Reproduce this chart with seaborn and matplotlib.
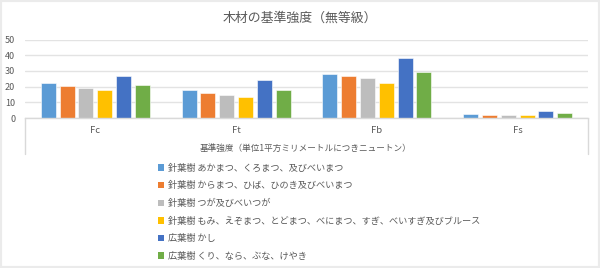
import matplotlib
matplotlib.use("Agg")
import matplotlib.pyplot as plt
import seaborn as sns
import pandas as pd
from matplotlib.patches import Rectangle
from matplotlib.lines import Line2D

categories = ["Fc", "Ft", "Fb", "Fs"]
series_names = [
    "針葉樹 あかまつ、くろまつ、及びべいまつ",
    "針葉樹 からまつ、ひば、ひのき及びべいまつ",
    "針葉樹 つが及びべいつが",
    "針葉樹 もみ、えぞまつ、とどまつ、べにまつ、すぎ、べいすぎ及びブルース",
    "広葉樹 かし",
    "広葉樹 くり、なら、ぶな、けやき",
]
akamatsu = [22.2, 17.7, 28.2, 2.4]
karamatsu = [20.7, 16.2, 26.7, 2.1]
tsuga = [19.2, 14.7, 25.2, 2.1]
momi = [17.7, 13.5, 22.2, 1.8]
kashi = [27.0, 24.0, 38.4, 4.2]
kuri = [21.0, 18.0, 29.4, 3.0]
series_values = [akamatsu, karamatsu, tsuga, momi, kashi, kuri]
yticks = [0, 10, 20, 30, 40, 50]
title = "木材の基準強度（無等級）"
xlabel = "基準強度（単位1平方ミリメートルにつきニュートン）"

colors = ["#5B9BD5", "#ED7D31", "#BDBDBD", "#FFC000", "#4472C4", "#70AD47"]

rows = []
for name, vals in zip(series_names, series_values):
    for c, v in zip(categories, vals):
        rows.append({"cat": c, "series": name, "value": v})
df = pd.DataFrame(rows)

sns.set_style("white")
plt.rcParams["font.family"] = ["Noto Sans CJK JP", "DejaVu Sans"]

fig = plt.figure(figsize=(6.0, 2.68), dpi=100)
fig.patch.set_facecolor("white")

W, H = 600, 268
left, right = 25 / W, 588 / W
bottom, top = 1 - 118 / H, 1 - 39.5 / H
ax = fig.add_axes([left, bottom, right - left, top - bottom])

sns.barplot(data=df, x="cat", y="value", hue="series", order=categories,
            hue_order=series_names, palette=colors, width=0.8, gap=0.2,
            ax=ax, legend=False, errorbar=None, saturation=1,
            edgecolor="white", linewidth=0.4)

ax.set_ylim(0, 50)
ax.set_yticks(yticks)
ax.set_yticklabels([str(t) for t in yticks])
ax.grid(axis="y", color="#E3E3E3", linewidth=1)
ax.set_axisbelow(True)
for s in ["top", "right", "left"]:
    ax.spines[s].set_visible(False)
ax.spines["bottom"].set_color("#D9D9D9")
ax.spines["bottom"].set_linewidth(1)
ax.tick_params(axis="y", length=0, pad=7, labelsize=6.5, labelcolor="#595959")
ax.tick_params(axis="x", length=0, pad=6, labelsize=6.8, labelcolor="#595959")
ax.set_xlabel("")
ax.set_ylabel("")

for xx in (0, 1):
    ax.add_line(Line2D([xx, xx], [0, -0.46], transform=ax.transAxes,
                       color="#D9D9D9", linewidth=1, clip_on=False))

fig.text(0.51, 1 - 148 / H, xlabel, ha="center", va="center",
         fontsize=6.2, color="#595959")
fig.text(0.5, 1 - 18 / H, title, ha="center", va="center",
         fontsize=9.3, color="#595959")

handles = [Rectangle((0, 0), 1, 1, facecolor=c, edgecolor="none") for c in colors]
leg = fig.legend(handles, series_names, loc="upper left",
                 bbox_to_anchor=(154 / W, 1 - 160 / H), frameon=False,
                 fontsize=6.6, handlelength=0.7, handleheight=0.7,
                 handletextpad=0.45, labelspacing=0.93, borderaxespad=0)
for t in leg.get_texts():
    t.set_color("#595959")

fig.add_artist(Rectangle((0, 0), 1, 1, transform=fig.transFigure,
                         facecolor="none", edgecolor="#EBEBEB", linewidth=3))

fig.savefig("out.png", dpi=100)
